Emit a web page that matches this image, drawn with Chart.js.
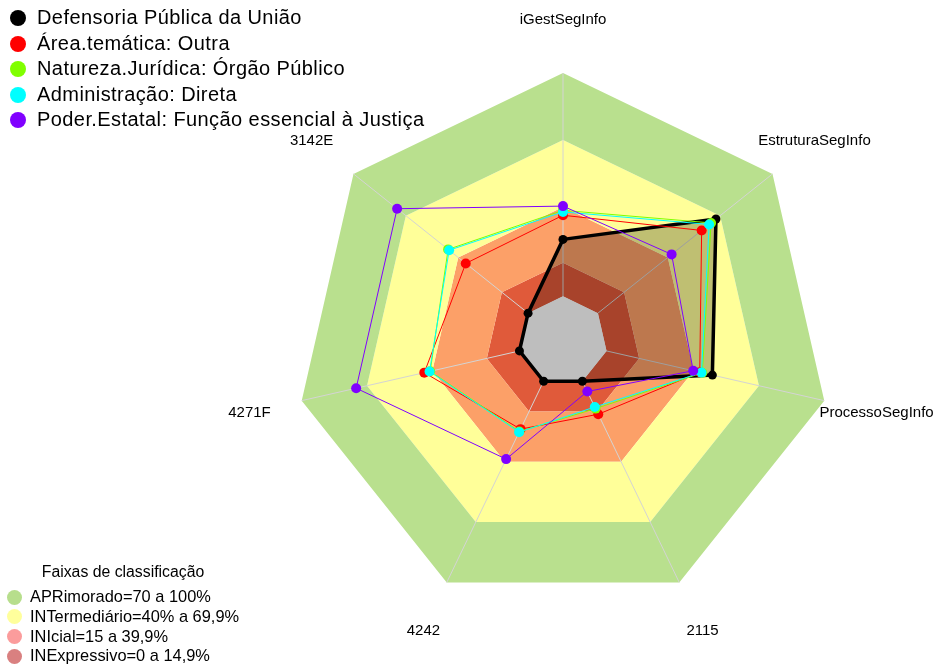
<!DOCTYPE html>
<html><head><meta charset="utf-8">
<script src="https://cdn.jsdelivr.net/npm/chart.js@4.4.1/dist/chart.umd.min.js"></script>
<style>
html,body{margin:0;padding:0;background:#fff;}
#wrap{position:relative;width:944px;height:668px;overflow:hidden;font-family:"Liberation Sans",Arial,sans-serif;color:#000;}
canvas{position:absolute;left:0;top:0;}
.lg{position:absolute;white-space:nowrap;line-height:1;}
.dot{position:absolute;border-radius:50%;}
</style></head><body>
<div id="wrap">
<canvas id="bg" width="944" height="668"></canvas>
<canvas id="fg" width="944" height="668"></canvas>
</div>
<script>
// ---- data ----
const categories = ['iGestSegInfo','EstruturaSegInfo','ProcessoSegInfo','2115','4242','4271F','3142E'];
const seriesNames = ['Defensoria Pública da União','Área.temática: Outra','Natureza.Jurídica: Órgão Público','Administração: Direta','Poder.Estatal: Função essencial à Justiça'];
const seriesColors = ['#000000','#ff0000','#80ff00','#00ffff','#8000ff'];
const defensoria = [25.5, 67.6, 48.6, 0, 0, 0, 0];
const areaOutra = [36.3, 59.4, 42.8, 16.4, 23.8, 43.7, 35.7];
const naturezaOrgao = [38.5, 64.8, 44.0, 13.6, 25.0, 41.0, 45.8];
const administracaoDireta = [37.8, 63.7, 43.6, 12.8, 25.3, 41.3, 45.2];
const poderFuncao = [40.4, 42.2, 39.8, 5.1, 38.7, 75.0, 75.0];
const bandTitle = 'Faixas de classificação';
const bandNames = ['APRimorado=70 a 100%','INTermediário=40% a 69,9%','INIcial=15 a 39,9%','INExpressivo=0 a 14,9%'];
const bandUpper = [100, 70, 40, 15];
const bandLower = [70, 40, 15, 0];
const bandFill = ['#b9e08e','#ffff99','#fca068','#e05a3a'];
const bandLegendColors = ['#b7de8c','#ffff9c','#fb9c9c','#d98080'];
const centerValue = 0;
const scaleMin = -20, scaleMax = 100;

// ---- layout ----
const W = 944, H = 668;
const geom = {left: 295, top: 73, size: 537};
const pad = {left: geom.left, top: geom.top, right: W - geom.left - geom.size, bottom: H - geom.top - geom.size};
const n = categories.length;
const filled = v => Array(n).fill(v);

function rScale(extra) {
  return Object.assign({
    min: scaleMin, max: scaleMax,
    ticks: {display: false},
    pointLabels: {display: false},
    grid: {display: false},
    angleLines: {display: false}
  }, extra);
}
const baseOpts = {
  responsive: false, animation: false, devicePixelRatio: 1,
  layout: {padding: pad},
  elements: {line: {tension: 0}},
  plugins: {legend: {display: false}, tooltip: {enabled: false}}
};

// ---- background chart: bands, spokes, axis labels ----
const labelPlugin = {
  id: 'axisLabels',
  afterDraw(chart) {
    const s = chart.scales.r, ctx = chart.ctx;
    ctx.save();
    ctx.font = '15px "Liberation Sans", Arial, sans-serif';
    ctx.fillStyle = '#000';
    ctx.textAlign = 'center';
    ctx.textBaseline = 'middle';
    for (let i = 0; i < n; i++) {
      const p = s.getPointPosition(i, s.drawingArea * 1.2);
      ctx.fillText(categories[i], p.x, p.y);
    }
    ctx.restore();
  }
};
new Chart(document.getElementById('bg'), {
  type: 'radar',
  data: {
    labels: categories,
    datasets: bandUpper.map((u, k) => ({
      data: filled(u), fill: {value: bandLower[k]},
      backgroundColor: bandFill[k], borderWidth: 0, pointRadius: 0
    }))
  },
  options: Object.assign({}, baseOpts, {
    scales: {r: rScale({grid: {display: false, z: 1}, angleLines: {display: true, color: '#d4d4d4', lineWidth: 1}})}
  }),
  plugins: [labelPlugin]
});

// ---- foreground chart: series ----
const seriesData = [defensoria, areaOutra, naturezaOrgao, administracaoDireta, poderFuncao];
const fgSets = [
  {data: defensoria, fill: 'start', backgroundColor: 'rgba(0,0,0,0.25)', borderWidth: 0, pointRadius: 0, order: 10},
  {data: filled(centerValue), fill: 'start', backgroundColor: '#bebebe', borderWidth: 0, pointRadius: 0, order: 9}
];
seriesData.forEach((d, k) => {
  fgSets.push({
    label: seriesNames[k], data: d, fill: false,
    borderColor: seriesColors[k], borderWidth: k === 0 ? 3.5 : 1,
    pointRadius: k === 0 ? 4.5 : 5, pointBorderWidth: 0,
    pointBackgroundColor: seriesColors[k],
    order: 5 - k
  });
});
new Chart(document.getElementById('fg'), {
  type: 'radar',
  data: {labels: categories, datasets: fgSets},
  options: Object.assign({}, baseOpts, {scales: {r: rScale({})}})
});

// ---- legends (HTML text) ----
const wrap = document.getElementById('wrap');
function addDot(x, y, d, color) {
  const e = document.createElement('div');
  e.className = 'dot';
  e.style.cssText = `left:${x - d/2}px;top:${y - d/2}px;width:${d}px;height:${d}px;background:${color};`;
  wrap.appendChild(e);
}
function addText(x, y, txt, size, extra) {
  const e = document.createElement('div');
  e.className = 'lg';
  e.textContent = txt;
  e.style.cssText = `left:${x}px;top:${y - size*0.55}px;font-size:${size}px;` + (extra || '');
  wrap.appendChild(e);
}
seriesNames.forEach((nm, k) => {
  const y = 18 + k * 25.5;
  addDot(18, y, 16, seriesColors[k]);
  addText(37, y, nm, 20, 'letter-spacing:0.42px;');
});
{
  const t = document.createElement('div');
  t.className = 'lg';
  t.textContent = bandTitle;
  t.style.cssText = 'left:0;width:246px;text-align:center;top:564px;font-size:15.8px;';
  wrap.appendChild(t);
}
bandNames.forEach((nm, k) => {
  const y = 597 + k * 19.8;
  addDot(14, y, 15, bandLegendColors[k]);
  addText(30, y, nm, 16.4);
});
</script>
</body></html>
